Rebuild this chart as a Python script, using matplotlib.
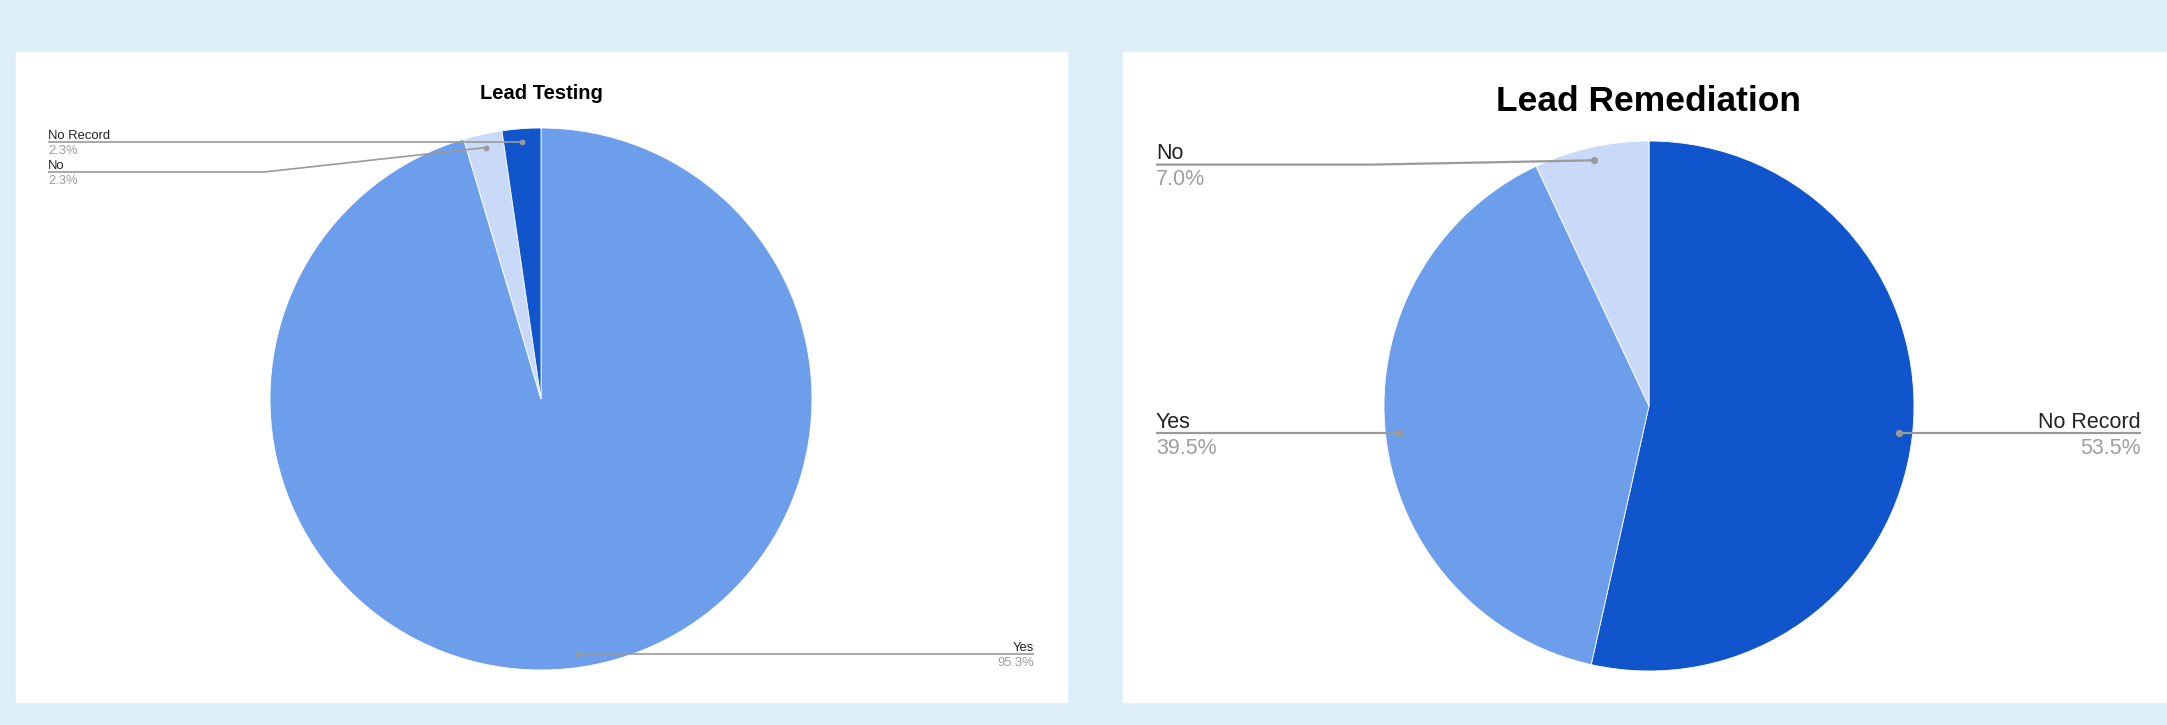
import matplotlib
matplotlib.use("Agg")
import matplotlib.pyplot as plt
import numpy as np
from matplotlib.patches import Rectangle

plt.rcParams['font.family'] = ['Liberation Sans', 'DejaVu Sans']

# --- data ---
testing_labels = ["Yes", "No", "No Record"]
testing_values = [95.3, 2.3, 2.3]
remediation_labels = ["No Record", "Yes", "No"]
remediation_values = [53.5, 39.5, 7.0]

slice_colors = {"Yes": "#6d9eeb", "No": "#c9daf8", "No Record": "#1155cc"}

W, H = 2167, 725
fig = plt.figure(figsize=(W / 100, H / 100), dpi=100)
fig.patch.set_facecolor("#ddeef9")
ax = fig.add_axes([0, 0, 1, 1])
ax.set_facecolor("none")


def Y(y):
    # image pixel row -> data y (y axis points up)
    return H - y


# white panels
ax.add_patch(Rectangle((16, Y(702)), 1051, 650, color="white", zorder=0))
ax.add_patch(Rectangle((1123, Y(702)), 1044, 650, color="white", zorder=0))

line_col = "#9a9a9a"
pct_col = "#9e9e9e"


def draw_pie(values, labels, cx, cy, r, title, title_size, title_y,
             label_size, lw, layout):
    ax.pie(values, colors=[slice_colors[l] for l in labels],
           startangle=90, counterclock=False,
           center=(cx, Y(cy)), radius=r, frame=True,
           wedgeprops=dict(edgecolor="white", linewidth=0.6))
    ax.text(cx, Y(title_y), title, ha="center", va="center",
            fontsize=title_size, fontweight="bold", color="black")

    total = sum(values)
    start = 90.0
    for val, lab in zip(values, labels):
        sweep = val / total * 360
        mid = np.radians(start - sweep / 2)
        start -= sweep
        dx = cx + 0.95 * r * np.cos(mid)
        dy = Y(cy) + 0.95 * r * np.sin(mid)
        tx, side, line_y, elbow_x = layout[lab]
        ly = Y(line_y)
        if elbow_x is None:
            xs, ys = [dx, tx], [ly, ly]
        else:
            xs, ys = [dx, elbow_x, tx], [dy, ly, ly]
        ax.plot(xs, ys, color=line_col, lw=lw, solid_capstyle="butt", zorder=3)
        ax.plot([dx], [ys[0]], "o", color=line_col, ms=lw * 2.6, zorder=4)
        ha = "left" if side == "left" else "right"
        gap = label_size * 0.35
        ax.text(tx, ly + gap, lab, ha=ha, va="baseline",
                fontsize=label_size, color="#222222")
        ax.text(tx, ly - gap * 0.8, f"{val:.1f}%", ha=ha, va="top",
                fontsize=label_size, color=pct_col)


draw_pie(testing_values, testing_labels, 541, 399, 271,
         "Lead Testing", 14.5, 93, 9.4, 1.2,
         {"No Record": (48, "left", 142.4, None),
          "No": (48, "left", 172, 264),
          "Yes": (1034, "right", 654, None)})

draw_pie(remediation_values, remediation_labels, 1649, 406, 265,
         "Lead Remediation", 25.5, 101, 15.5, 1.6,
         {"No": (1156, "left", 164.6, 1372),
          "Yes": (1156, "left", 433.2, None),
          "No Record": (2141, "right", 433.2, None)})

ax.set_xlim(0, W)
ax.set_ylim(0, H)
ax.set_aspect("auto")
ax.axis("off")

fig.savefig("out.png", dpi=100, facecolor=fig.get_facecolor())
